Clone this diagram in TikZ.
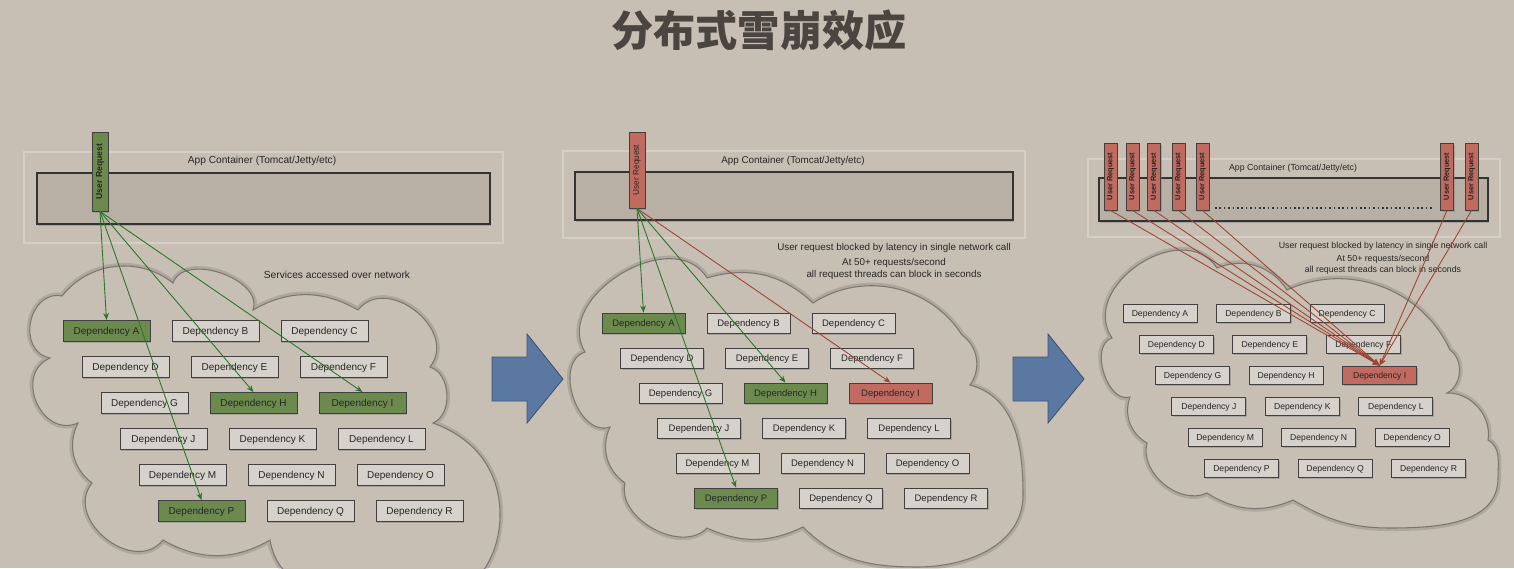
\documentclass[tikz,border=0pt]{standalone}
\usepackage{fontspec}
\usepackage{graphicx}
\setmainfont{Liberation Sans}
\newfontfamily\cjk{Noto Sans CJK SC}
\usetikzlibrary{arrows.meta,shadows}

\definecolor{bgc}{RGB}{199,191,179}
\definecolor{boxc}{RGB}{214,209,202}
\definecolor{okc}{RGB}{108,138,78}
\definecolor{badc}{RGB}{192,106,96}
\definecolor{okln}{RGB}{40,118,40}
\definecolor{badln}{RGB}{158,68,52}
\definecolor{appc}{RGB}{184,176,165}
\definecolor{frmc}{RGB}{214,207,197}
\definecolor{bluc}{RGB}{91,120,163}
\definecolor{titc}{RGB}{74,69,64}

\begin{document}
\begin{tikzpicture}[x=0.02cm, y=-0.02cm,
  every node/.style={inner sep=0pt, text=black!85},
  shd/.style={drop shadow={shadow xshift=0.7pt, shadow yshift=-0.9pt, opacity=0.45}},
  dep/.style={draw=black!75, fill=boxc, line width=0.5pt, text depth=0pt, shd},
  depL/.style={dep, minimum width=1.74cm, minimum height=0.42cm, font=\fontsize{5.7}{6}\selectfont},
  depM/.style={dep, minimum width=1.66cm, minimum height=0.40cm, font=\fontsize{5.4}{6}\selectfont},
  depR/.style={dep, minimum width=1.48cm, minimum height=0.36cm, font=\fontsize{4.9}{5.5}\selectfont},
  ok/.style={fill=okc},
  bad/.style={fill=badc},
  reqL/.style={dep, minimum width=0.32cm, minimum height=1.58cm, font=\bfseries\fontsize{4.9}{5}\selectfont},
  reqM/.style={dep, minimum width=0.32cm, minimum height=1.52cm, font=\fontsize{4.7}{5}\selectfont},
  reqR/.style={dep, fill=badc, minimum width=0.26cm, minimum height=1.34cm, font=\bfseries\fontsize{4.2}{5}\selectfont},
  lblL/.style={align=center, font=\fontsize{5.8}{7}\selectfont},
  lblM/.style={align=center, font=\fontsize{5.6}{6.8}\selectfont},
  lblR/.style={align=center, font=\fontsize{5}{6.2}\selectfont},
  frm/.style={draw=frmc, line width=0.6pt},
  app/.style={draw=black!80, fill=appc, line width=0.6pt, shd},
  cld/.style={draw=black!38!bgc, fill=bgc, line width=0.6pt,
              preaction={draw=black, opacity=0.12, line width=3.5pt}},
  pf/.style={bend left=#1},
  big/.style={draw=bluc!70!black, fill=bluc, line width=0.5pt},
  ttl/.style={text=titc, font=\cjk\bfseries\fontsize{24}{28}\selectfont},
  ga/.style={-{Stealth[length=4pt,width=3.2pt]}, draw=okln, line width=0.5pt},
  ra/.style={-{Stealth[length=4pt,width=3.2pt]}, draw=badln, line width=0.5pt}]

%% --- background ---
\fill[bgc] (0,0) rectangle (1514,568);
\useasboundingbox (0,0) rectangle (1514,568);
\clip (0,0) rectangle (1514,568);

%% --- title ---
\node[ttl] (TTL) at (759,30) {分布式雪崩效应};

%% --- clouds ---
\draw[cld] (50,358) to[pf=90, looseness=1.4] (62,296) to[pf=45] (173,283) to[pf=90] (253,310)
  to[pf=30] (358,310) to[pf=90, looseness=1.3] (430,367) to[pf=70] (433,423)
  to[out=-20, in=90] (500,515) to[out=-90, in=0] (430,600) to[out=180, in=-80] (270,540)
  to[pf=30] (163,540) to[pf=90, looseness=1.3] (92,483) to[pf=40] (78,423)
  to[pf=90, looseness=1.45] (50,358) -- cycle;
\draw[cld] (585,352) to[pf=90, looseness=1.15] (707,278) to[pf=30] (813,303) to[pf=45] (962,335)
  to[pf=45] (970,385) to[out=-15, in=90] (1023,495) to[out=-90, in=0] (917,567)
  to[out=180, in=-45] (803,527) to[pf=25] (707,528)
  to[pf=75] (625,483) to[pf=40] (610,427) to[pf=90, looseness=1.1] (585,352) -- cycle;
\draw[cld] (1112,338) to[pf=90, looseness=1.25] (1217,268) to[pf=40] (1287,290) to[pf=45] (1450,350)
  to[pf=60] (1447,393) to[pf=50] (1488,440) to[out=-30, in=90] (1498,478) to[out=-90, in=0] (1390,528)
  to[out=180, in=-30] (1293,500) to[pf=28] (1207,493)
  to[pf=65] (1147,443) to[pf=40] (1130,397) to[pf=90] (1112,338) -- cycle;

%% --- big arrows ---
\draw[big] (492,357) -- (527,357) -- (527,334) -- (563,379) -- (527,423) -- (527,401) -- (492,401) -- cycle;
\draw[big] (1013,357) -- (1048,357) -- (1048,334) -- (1084,379) -- (1048,423) -- (1048,401) -- (1013,401) -- cycle;

%% --- Left: healthy request ---
\draw[frm] (24,152) rectangle (503,243);
\draw[app] (37,173) rectangle (490,224);
\node[lblL] (LAPP) at (262,161) {App Container (Tomcat/Jetty/etc)};
\node[reqL, ok] (LUR) at (100,171.5) {\rotatebox{90}{User Request}};
\node[lblL] (LNET) at (337,275) {Services accessed over network};

\node[depL, ok] (LA) at (106.5,331) {Dependency A}; \node[depL] (LB) at (215.5,331) {Dependency B}; \node[depL] (LC) at (324.5,331) {Dependency C};
\node[depL] (LD) at (125.5,367) {Dependency D}; \node[depL] (LE) at (234.5,367) {Dependency E}; \node[depL] (LF) at (343.5,367) {Dependency F};
\node[depL] (LG) at (144.5,403) {Dependency G}; \node[depL, ok] (LH) at (253.5,403) {Dependency H}; \node[depL, ok] (LI) at (362.5,403) {Dependency I};
\node[depL] (LJ) at (163.5,439) {Dependency J}; \node[depL] (LK) at (272.5,439) {Dependency K}; \node[depL] (LL) at (381.5,439) {Dependency L};
\node[depL] (LM) at (182.5,475) {Dependency M}; \node[depL] (LN) at (291.5,475) {Dependency N}; \node[depL] (LO) at (400.5,475) {Dependency O};
\node[depL, ok] (LP) at (201.5,511) {Dependency P}; \node[depL] (LQ) at (310.5,511) {Dependency Q}; \node[depL] (LR) at (419.5,511) {Dependency R};

\draw[ga] (LUR.south) -- (LA.north);
\draw[ga] (LUR.south) -- (LH.north);
\draw[ga] (LUR.south) -- (LI.north);
\draw[ga] (LUR.south) -- (LP.north);

%% --- Middle: one dependency latent ---
\draw[frm] (563,151) rectangle (1025,238);
\draw[app] (575,172) rectangle (1013,220);
\node[lblM] (MAPP) at (793,161) {App Container (Tomcat/Jetty/etc)};
\node[reqM, bad] (MUR) at (637,170) {\rotatebox{90}{User Request}};
\node[lblM] (MBLK) at (894,248) {User request blocked by latency in single network call};
\node[lblM] (MRPS) at (894,269) {At 50+ requests/second\\all request threads can block in seconds};

\node[depM, ok] (MA) at (643.5,323) {Dependency A}; \node[depM] (MB) at (748.5,323) {Dependency B}; \node[depM] (MC) at (853.5,323) {Dependency C};
\node[depM] (MD) at (662,358) {Dependency D}; \node[depM] (ME) at (767,358) {Dependency E}; \node[depM] (MF) at (872,358) {Dependency F};
\node[depM] (MG) at (680.5,393) {Dependency G}; \node[depM, ok] (MH) at (785.5,393) {Dependency H}; \node[depM, bad] (MI) at (890.5,393) {Dependency I};
\node[depM] (MJ) at (699,428) {Dependency J}; \node[depM] (MK) at (804,428) {Dependency K}; \node[depM] (ML) at (909,428) {Dependency L};
\node[depM] (MM) at (717.5,463) {Dependency M}; \node[depM] (MN) at (822.5,463) {Dependency N}; \node[depM] (MO) at (927.5,463) {Dependency O};
\node[depM, ok] (MP) at (736,498) {Dependency P}; \node[depM] (MQ) at (841,498) {Dependency Q}; \node[depM] (MR) at (946,498) {Dependency R};

\draw[ga] (MUR.south) -- (MA.north);
\draw[ga] (MUR.south) -- (MH.north);
\draw[ga] (MUR.south) -- (MP.north);
\draw[ra] (MUR.south) -- (MI.north);

%% --- Right: all threads blocked ---
\draw[frm] (1088,159) rectangle (1500,237);
\draw[app] (1099,178) rectangle (1488,221);
\node[lblR] (RAPP) at (1293,168) {App Container (Tomcat/Jetty/etc)};
\draw[line width=0.9pt, dash pattern=on 0.9pt off 1.6pt, black!80] (1215,208) -- (1433,208);
\node[reqR] (RU1) at (1110.5,176.5) {\rotatebox{90}{User Request}};
\node[reqR] (RU2) at (1132.5,176.5) {\rotatebox{90}{User Request}};
\node[reqR] (RU3) at (1154,176.5) {\rotatebox{90}{User Request}};
\node[reqR] (RU4) at (1178.5,176.5) {\rotatebox{90}{User Request}};
\node[reqR] (RU5) at (1202.5,176.5) {\rotatebox{90}{User Request}};
\node[reqR] (RU6) at (1447,176.5) {\rotatebox{90}{User Request}};
\node[reqR] (RU7) at (1471.5,176.5) {\rotatebox{90}{User Request}};
\node[lblR] (RBLK) at (1383,246) {User request blocked by latency in single network call};
\node[lblR] (RRPS) at (1383,264.5) {At 50+ requests/second\\all request threads can block in seconds};

\node[depR] (RA) at (1160,313) {Dependency A}; \node[depR] (RB) at (1253.5,313) {Dependency B}; \node[depR] (RC) at (1347,313) {Dependency C};
\node[depR] (RD) at (1176.3,344) {Dependency D}; \node[depR] (RE) at (1269.8,344) {Dependency E}; \node[depR] (RF) at (1363.3,344) {Dependency F};
\node[depR] (RG) at (1192.6,375) {Dependency G}; \node[depR] (RH) at (1286.1,375) {Dependency H}; \node[depR, bad] (RI) at (1379.6,375) {Dependency I};
\node[depR] (RJ) at (1208.9,406) {Dependency J}; \node[depR] (RK) at (1302.4,406) {Dependency K}; \node[depR] (RL) at (1395.9,406) {Dependency L};
\node[depR] (RM) at (1225.2,437) {Dependency M}; \node[depR] (RN) at (1318.7,437) {Dependency N}; \node[depR] (RO) at (1412.2,437) {Dependency O};
\node[depR] (RP) at (1241.5,468) {Dependency P}; \node[depR] (RQ) at (1335,468) {Dependency Q}; \node[depR] (RR) at (1428.5,468) {Dependency R};

\draw[ra] (RU1.south) -- (RI.north);
\draw[ra] (RU2.south) -- (RI.north);
\draw[ra] (RU3.south) -- (RI.north);
\draw[ra] (RU4.south) -- (RI.north);
\draw[ra] (RU5.south) -- (RI.north);
\draw[ra] (RU6.south) -- (RI.north);
\draw[ra] (RU7.south) -- (RI.north);
\end{tikzpicture}
\end{document}
